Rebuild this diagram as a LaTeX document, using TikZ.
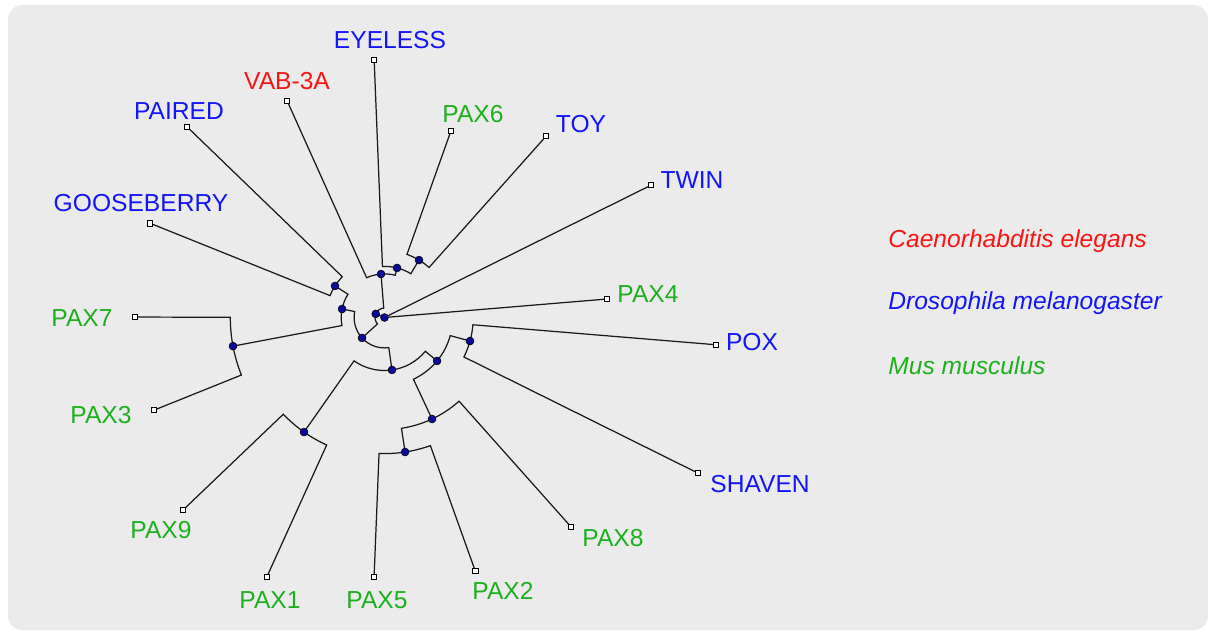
\documentclass[tikz,border=0pt]{standalone}
\usepackage{fontspec}
\setmainfont{Liberation Sans}
\usepackage{xcolor}
\usepackage{tikz}
\usetikzlibrary{calc}
\definecolor{mybg}{RGB}{235,235,235}
\definecolor{myblue}{RGB}{20,20,250}
\definecolor{myred}{RGB}{250,20,20}
\definecolor{mygreen}{RGB}{30,175,30}
\definecolor{mynavy}{RGB}{10,10,150}
\tikzset{
  leaf/.style={rectangle, draw=black, fill=white, inner sep=0pt, minimum size=3pt, line width=0.4pt},
  knot/.style={circle, draw=black, fill=mynavy, inner sep=0pt, minimum size=4.5pt, line width=0.3pt},
  lbl/.style={inner sep=0pt, font=\fontsize{14}{16}\selectfont},
  legendtext/.style={inner sep=0pt, anchor=west, font=\fontsize{14}{16}\selectfont\itshape},
  branch/.style={line width=0.7pt, color=black!90}
}
% parent, parent angle, parent radius, child angle, child
\newcommand{\clade}[5]{\draw[branch] (#1) arc[start angle=#2, end angle=#4, radius=#3] -- (#5);}

\begin{document}
\begin{tikzpicture}[x=0.02cm, y=-0.02cm]
  \useasboundingbox (0,0) rectangle (1210,632);
  \fill[mybg, rounded corners=8pt] (8,5) rectangle (1208,630);

  % inner nodes, polar round the root
  \coordinate (root) at (384.5,317.5);
  \coordinate (nB)  at ($(root)+(202.4:9.5)$);
  \coordinate (nT1) at ($(root)+(265.4:43.6)$);
  \coordinate (nT2) at ($(root)+(284.2:51.1)$);
  \coordinate (nT3) at ($(root)+(301.0:67.0)$);
  \coordinate (nD)  at ($(root)+(137.7:30.4)$);
  \coordinate (nA)  at ($(root)+(191.3:43.3)$);
  \coordinate (nG)  at ($(root)+(212.5:58.7)$);
  \coordinate (nK)  at ($(root)+(169.3:154.2)$);
  \coordinate (nE)  at ($(root)+(81.9:53.0)$);
  \coordinate (nL)  at ($(root)+(125.1:140.0)$);
  \coordinate (nF)  at ($(root)+(39.6:68.2)$);
  \coordinate (nH)  at ($(root)+(15.4:88.7)$);
  \coordinate (nI)  at ($(root)+(64.9:112.1)$);
  \coordinate (nJ)  at ($(root)+(81.3:136.1)$);

  % leaves
  \coordinate (eyeless) at ($(root)+(267.7:257.7)$);
  \coordinate (vab)     at ($(root)+(245.8:237.4)$);
  \coordinate (paired)  at ($(root)+(224.0:274.4)$);
  \coordinate (goose)   at ($(root)+(201.9:252.8)$);
  \coordinate (pax7)    at ($(root)+(180.1:249.5)$);
  \coordinate (pax3)    at ($(root)+(158.1:248.4)$);
  \coordinate (pax9)    at ($(root)+(136.3:278.7)$);
  \coordinate (pax1)    at ($(root)+(114.4:284.9)$);
  \coordinate (pax5)    at ($(root)+(92.3:259.7)$);
  \coordinate (pax2)    at ($(root)+(70.3:269.2)$);
  \coordinate (pax8)    at ($(root)+(48.3:280.5)$);
  \coordinate (shaven)  at ($(root)+(26.4:349.9)$);
  \coordinate (pox)     at ($(root)+(4.7:332.6)$);
  \coordinate (pax4)    at ($(root)+(355.25:223.3)$);
  \coordinate (twin)    at ($(root)+(333.6:297.6)$);
  \coordinate (toy)     at ($(root)+(311.7:243.0)$);
  \coordinate (pax6)    at ($(root)+(289.6:198.0)$);

  % branches
  \draw[branch] (root) -- (nB);
  \draw[branch] (root) -- (twin);
  \draw[branch] (root) -- (pax4);
  \clade{nB}{202.4}{9.5}{265.4}{nT1}
  \clade{nB}{202.4}{9.5}{137.7}{nD}
  \clade{nT1}{265.4}{43.6}{245.8}{vab}
  \clade{nT1}{265.4}{43.6}{284.2}{nT2}
  \clade{nT2}{284.2}{51.1}{267.7}{eyeless}
  \clade{nT2}{284.2}{51.1}{301.0}{nT3}
  \clade{nT3}{301.0}{67.0}{289.6}{pax6}
  \clade{nT3}{301.0}{67.0}{311.7}{toy}
  \clade{nD}{137.7}{30.4}{191.3}{nA}
  \clade{nD}{137.7}{30.4}{81.9}{nE}
  \clade{nA}{191.3}{43.3}{212.5}{nG}
  \clade{nA}{191.3}{43.3}{169.3}{nK}
  \clade{nG}{212.5}{58.7}{224.0}{paired}
  \clade{nG}{212.5}{58.7}{201.9}{goose}
  \clade{nK}{169.3}{154.2}{180.1}{pax7}
  \clade{nK}{169.3}{154.2}{158.1}{pax3}
  \clade{nE}{81.9}{53.0}{125.1}{nL}
  \clade{nE}{81.9}{53.0}{39.6}{nF}
  \clade{nL}{125.1}{140.0}{136.3}{pax9}
  \clade{nL}{125.1}{140.0}{114.4}{pax1}
  \clade{nF}{39.6}{68.2}{15.4}{nH}
  \clade{nF}{39.6}{68.2}{64.9}{nI}
  \clade{nH}{15.4}{88.7}{4.7}{pox}
  \clade{nH}{15.4}{88.7}{26.4}{shaven}
  \clade{nI}{64.9}{112.1}{81.3}{nJ}
  \clade{nI}{64.9}{112.1}{48.3}{pax8}
  \clade{nJ}{81.3}{136.1}{92.3}{pax5}
  \clade{nJ}{81.3}{136.1}{70.3}{pax2}

  \foreach \n in {root,nB,nT1,nT2,nT3,nD,nA,nG,nK,nE,nL,nF,nH,nI,nJ}
    \node[knot] at (\n) {};
  \foreach \n in {eyeless,vab,paired,goose,pax7,pax3,pax9,pax1,pax5,pax2,pax8,shaven,pox,pax4,twin,toy,pax6}
    \node[leaf] at (\n) {};

  % names
  \node[lbl, myblue]  (eyelessT) at (390,40)  {EYELESS};
  \node[lbl, myred]   (vabT)     at (287,81)  {VAB-3A};
  \node[lbl, myblue]  (pairedT)  at (179,111) {PAIRED};
  \node[lbl, myblue]  (gooseT)   at (141,203) {GOOSEBERRY};
  \node[lbl, mygreen] (pax6T)    at (473,114) {PAX6};
  \node[lbl, myblue]  (toyT)     at (581,124) {TOY};
  \node[lbl, myblue]  (twinT)    at (692,180) {TWIN};
  \node[lbl, mygreen] (pax4T)    at (648,294) {PAX4};
  \node[lbl, myblue]  (poxT)     at (752,342) {POX};
  \node[lbl, myblue]  (shavenT)  at (760,484) {SHAVEN};
  \node[lbl, mygreen] (pax8T)    at (613,538) {PAX8};
  \node[lbl, mygreen] (pax2T)    at (503,591) {PAX2};
  \node[lbl, mygreen] (pax5T)    at (377,600) {PAX5};
  \node[lbl, mygreen] (pax1T)    at (270,600) {PAX1};
  \node[lbl, mygreen] (pax9T)    at (161,530) {PAX9};
  \node[lbl, mygreen] (pax3T)    at (101,415) {PAX3};
  \node[lbl, mygreen] (pax7T)    at (82,318)  {PAX7};

  % species key
  \node[legendtext, myred]   (celeg) at (888,241) {Caenorhabditis elegans};
  \node[legendtext, myblue]  (dmel)  at (888,303) {Drosophila melanogaster};
  \node[legendtext, mygreen] (mmus)  at (888,366) {Mus musculus};
\end{tikzpicture}
\end{document}
